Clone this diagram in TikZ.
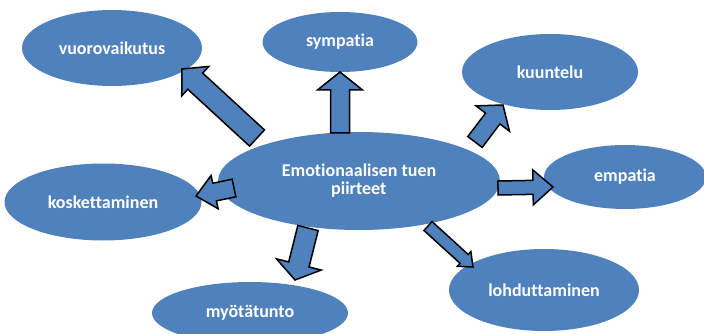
\documentclass[tikz,border=0pt]{standalone}
\usepackage{fontspec}
\setmainfont{Carlito}[Ligatures=NoCommon]
\usetikzlibrary{shapes.geometric,calc}
\definecolor{ablue}{HTML}{4F81BD}
\tikzset{
  bub/.style={ellipse, fill=ablue, inner sep=0pt, text=white,
    font=\bfseries\fontsize{18}{19}\selectfont},
  txt/.style={inner sep=0pt, text=white, font=\bfseries\fontsize{18}{19}\selectfont},
  barrow/.style={fill=ablue, draw=black, line width=1.5pt, line join=miter},
}
% tail, tip, half shaft width, half head width, head length
\newcommand\blockarrow[5]{%
  \draw[barrow] ($(#1)!#3!90:(#2)$)
    -- ($(#2)!#5!(#1)!#3!-90:(#1)$)
    -- ($(#2)!#5!(#1)!#4!-90:(#1)$)
    -- (#2)
    -- ($(#2)!#5!(#1)!#4!90:(#1)$)
    -- ($(#2)!#5!(#1)!#3!90:(#1)$)
    -- ($(#1)!#3!-90:(#2)$) -- cycle;}
\begin{document}
\begin{tikzpicture}[x=1pt,y=-1pt]
\useasboundingbox (0,0) rectangle (704,334);
\clip (0,0) rectangle (704,334);
\node[bub, minimum width=180pt, minimum height=76pt] (vuo) at (112,48) {vuorovaikutus};
\node[bub, minimum width=155pt, minimum height=60pt] (sym) at (340,42) {sympatia};
\node[bub, minimum width=176pt, minimum height=76pt] (kuu) at (550,72) {kuuntelu};
\node[bub, minimum width=162pt, minimum height=64pt] (emp) at (625,177) {empatia};
\node[bub, minimum width=190pt, minimum height=82pt] (loh) at (544,290) {lohduttaminen};
\node[bub, minimum width=196pt, minimum height=62pt] (myo) at (250,313) {myötätunto};
\node[bub, minimum width=197pt, minimum height=77pt] (kos) at (103,202) {koskettaminen};
\node[bub, minimum width=282pt, minimum height=98pt] (cen) at (359,181) {};
\node[txt, anchor=base] (cen1) at ($(cen.center)+(0,-5)$) {Emotionaalisen tuen};
\node[txt, anchor=base west] (cen2) at ($(cen1.base)+(-28,18)$) {piirteet};
% arrow end points
\coordinate (a1s) at (257,138); \coordinate (a1e) at (182,69);
\coordinate (a2s) at (340,133); \coordinate (a2e) at (340,72);
\coordinate (a3s) at (475,142); \coordinate (a3e) at (503,105);
\coordinate (a4s) at (498,188); \coordinate (a4e) at (553,187);
\coordinate (a5s) at (428,226); \coordinate (a5e) at (473,267);
\coordinate (a6s) at (308,228); \coordinate (a6e) at (295,280);
\coordinate (a7s) at (234,188); \coordinate (a7e) at (196,196);
\blockarrow{a1s}{a1e}{11pt}{20pt}{18pt}
\blockarrow{a2s}{a2e}{9.5pt}{22.5pt}{18pt}
\blockarrow{a3s}{a3e}{9pt}{21pt}{17pt}
\blockarrow{a4s}{a4e}{7pt}{17.5pt}{20pt}
\blockarrow{a5s}{a5e}{6pt}{10pt}{12pt}
\blockarrow{a6s}{a6e}{10.5pt}{23pt}{16pt}
\blockarrow{a7s}{a7e}{9pt}{17pt}{19pt}
\end{tikzpicture}
\end{document}
